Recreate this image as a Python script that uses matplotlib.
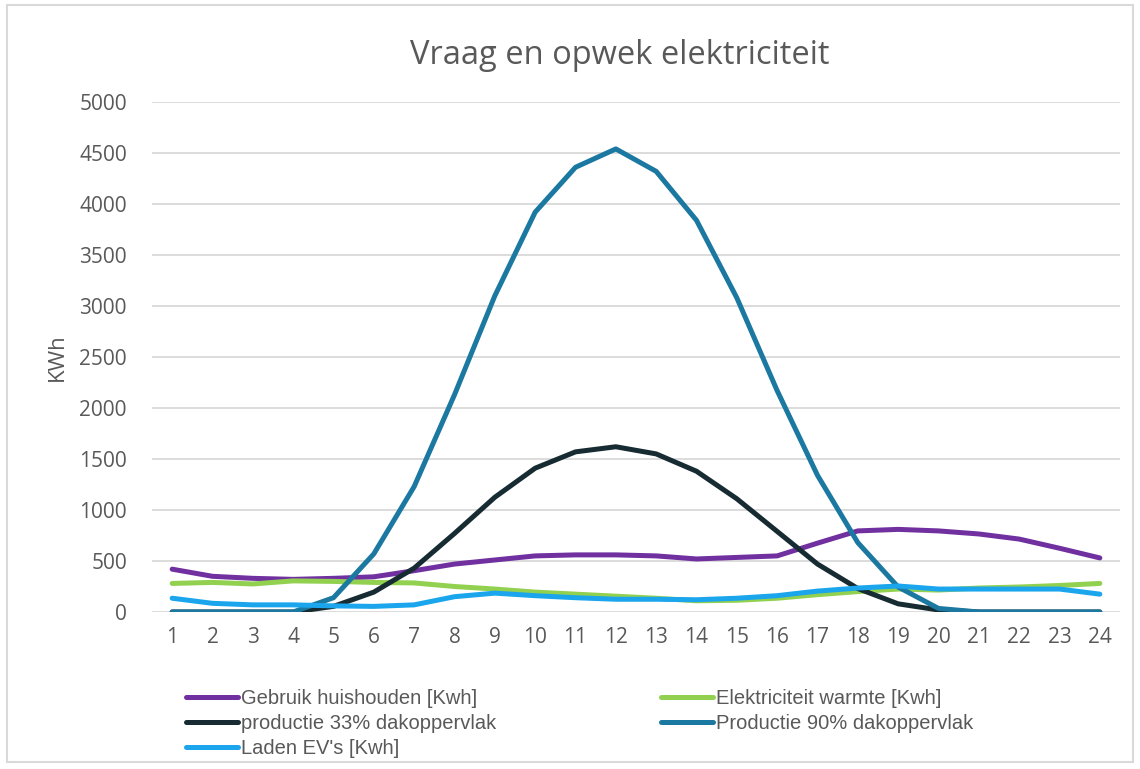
import matplotlib
matplotlib.use("Agg")
import matplotlib.pyplot as plt
from matplotlib.patches import Rectangle

hours = list(range(1, 25))
gebruik = [420, 350, 330, 320, 330, 345, 405, 470, 510, 550, 560, 560, 550, 520, 535, 550, 675, 795, 810, 795, 765, 715, 625, 530]
warmte = [280, 290, 275, 305, 300, 290, 285, 250, 225, 195, 175, 155, 135, 110, 115, 135, 170, 200, 225, 215, 235, 245, 260, 280]
prod33 = [0, 0, 0, 0, 55, 195, 430, 770, 1125, 1410, 1570, 1620, 1550, 1380, 1110, 790, 470, 230, 80, 20, 0, 0, 0, 0]
prod90 = [0, 0, 0, 0, 140, 570, 1230, 2130, 3100, 3920, 4360, 4540, 4320, 3840, 3080, 2170, 1340, 680, 245, 35, 0, 0, 0, 0]
laden = [135, 85, 70, 70, 60, 55, 70, 150, 185, 160, 140, 125, 125, 120, 135, 160, 205, 235, 255, 225, 225, 225, 225, 175]

series = [
    ("Gebruik huishouden [Kwh]", gebruik, "#7030A0"),
    ("Elektriciteit warmte [Kwh]", warmte, "#92D050"),
    ("productie 33% dakoppervlak", prod33, "#172B32"),
    ("Productie 90% dakoppervlak", prod90, "#1B78A0"),
    ("Laden EV's [Kwh]", laden, "#1AA5EC"),
]

W, H = 1140, 769
fig = plt.figure(figsize=(W / 100, H / 100), dpi=100)
fig.patches.append(Rectangle((7 / W, 1 - 762 / H), 1126 / W, 757 / H, transform=fig.transFigure,
                             fill=False, edgecolor="#D9D9D9", linewidth=1.5))

ax = fig.add_axes([152 / W, 1 - 612 / H, (1120 - 152) / W, (612 - 102) / H])
ax.set_ylim(0, 5000)
ax.set_xlim(0.5, 24.5)
ax.set_yticks(range(0, 5001, 500))
ax.set_xticks(hours)
ax.grid(axis="y", color="#D9D9D9", linewidth=1.3)
ax.set_axisbelow(True)
for s in ax.spines.values():
    s.set_visible(False)
ax.tick_params(length=0, labelsize=15, colors="#595959", pad=11)
ax.tick_params(axis="y", pad=18)
for lab in ax.get_xticklabels() + ax.get_yticklabels():
    lab.set_fontfamily(["Open Sans", "DejaVu Sans"])

handles = []
for name, vals, col in series:
    h, = ax.plot(hours, vals, color=col, linewidth=3.6, solid_capstyle="round", solid_joinstyle="round", label=name)
    handles.append(h)

ax.set_ylabel("KWh", fontsize=16, color="#595959", family=["Open Sans", "DejaVu Sans"], labelpad=8)
fig.text(620 / W, 1 - 55 / H, "Vraag en opwek elektriciteit", ha="center", va="center",
         fontsize=23.5, color="#595959", family=["Open Sans", "DejaVu Sans"])

order = [0, 2, 4, 1, 3]
leg = fig.legend(handles=[handles[i] for i in order], loc="upper left", bbox_to_anchor=(178 / W, 1 - 681 / H),
                 ncol=2, frameon=False, handlelength=2.6, handletextpad=0.15,
                 columnspacing=8.15, labelspacing=0.3, borderaxespad=0,
                 prop={"family": ["Liberation Sans Narrow", "Liberation Sans", "DejaVu Sans"], "size": 14.5})
for t in leg.get_texts():
    t.set_color("#595959")

fig.savefig("out.png", dpi=100)
